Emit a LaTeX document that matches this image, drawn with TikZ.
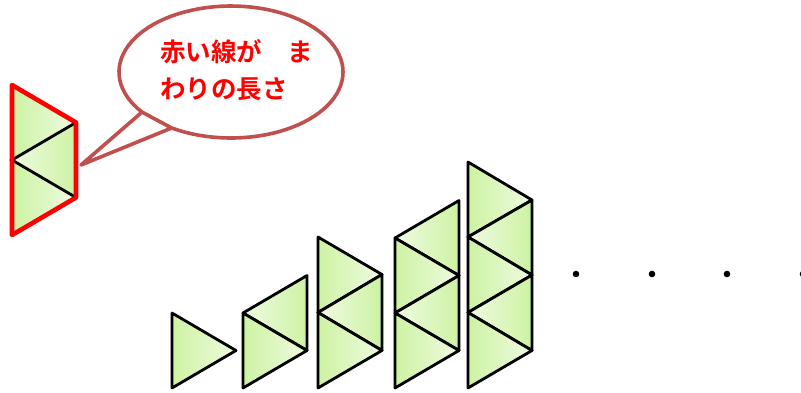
\documentclass[tikz,border=0pt]{standalone}
\usepackage{fontspec}
\newfontfamily\jpfont{Noto Sans CJK JP}[BoldFont={* Bold}]
\definecolor{grn}{HTML}{CDF2A2}
\definecolor{lite}{HTML}{EFFBE2}
\definecolor{bubbleline}{HTML}{C0504D}
\newcommand{\rtri}[3]{\path[tri, left color=grn, right color=lite] #1 -- #2 -- #3 -- cycle;}
\newcommand{\ltri}[3]{\path[tri, left color=lite, right color=grn] #1 -- #2 -- #3 -- cycle;}
\begin{document}
\begin{tikzpicture}[x=1pt,y=-1pt,
  tri/.style={draw=black, line width=2.8pt, line join=round},
  bubble/.style={draw=bubbleline, fill=white, line width=3.6pt, line join=round},
  lbl/.style={anchor=base west, inner sep=0pt, text=red, font=\jpfont\bfseries\fontsize{25.5}{30}\selectfont},
  dot/.style={fill=black}]
\clip (0,0) rectangle (801,392);
\fill[white] (0,0) rectangle (801,392);

% speech bubble
\draw[bubble] (142,112.1) -- (81,165) -- (171.6,128)
  plot[domain=122:-217.4, samples=90] ({231+112*cos(\x)}, {72+66*sin(\x)}) -- cycle;
\node[lbl] (t1) at (160,61) {赤い線が　ま};
\node[lbl] (t2) at (160,98) {わりの長さ};

% red-outlined figure (3 triangles)
\path[left color=grn, right color=lite] (12,85) -- (76,122.5) -- (12,160) -- cycle;
\path[left color=lite, right color=grn] (12,160) -- (76,122.5) -- (76,197.5) -- cycle;
\path[left color=grn, right color=lite] (12,160) -- (76,197.5) -- (12,235) -- cycle;
\draw[black, line width=2.8pt] (76,122.5) -- (12,160) -- (76,197.5);
\draw[red, line width=4.6pt, line join=round] (12,85) -- (76,122.5) -- (76,197.5) -- (12,235) -- cycle;

% n = 1
\rtri{(172,313)}{(236,350.5)}{(172,388)}

% n = 2
\ltri{(243,313)}{(307,275.5)}{(307,350.5)}
\rtri{(243,313)}{(307,350.5)}{(243,388)}

% n = 3
\rtri{(318,237)}{(382,274.5)}{(318,312.5)}
\ltri{(318,312.5)}{(382,274.5)}{(382,350.5)}
\rtri{(318,312.5)}{(382,350.5)}{(318,388)}

% n = 4
\ltri{(395,238)}{(459,200.5)}{(459,275.5)}
\rtri{(395,238)}{(459,275.5)}{(395,313)}
\ltri{(395,313)}{(459,275.5)}{(459,350.5)}
\rtri{(395,313)}{(459,350.5)}{(395,388)}

% n = 5
\rtri{(468,162)}{(532,200)}{(468,237)}
\ltri{(468,237)}{(532,200)}{(532,275)}
\rtri{(468,237)}{(532,275)}{(468,312.5)}
\ltri{(468,312.5)}{(532,275)}{(532,350.5)}
\rtri{(468,312.5)}{(532,350.5)}{(468,388)}

% dots
\fill[dot] (576,274) circle (3.3);
\fill[dot] (652,274) circle (3.3);
\fill[dot] (727,274) circle (3.3);
\fill[dot] (803,274) circle (3.3);
\end{tikzpicture}
\end{document}
